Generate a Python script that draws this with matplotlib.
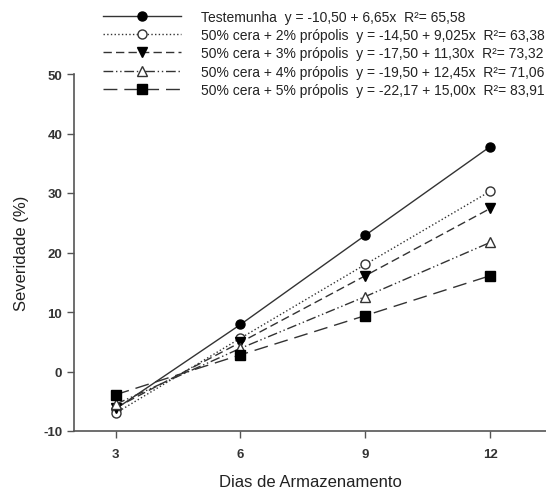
import matplotlib
matplotlib.use('Agg')
import matplotlib.pyplot as plt

plt.rcParams['font.family'] = ['Liberation Sans', 'DejaVu Sans']
plt.rcParams['axes.unicode_minus'] = False

dias = [3, 6, 9, 12]
testemunha = [-6.3, 7.9, 22.9, 37.8]
propolis2 = [-7.0, 5.6, 18.0, 30.3]
propolis3 = [-6.1, 4.9, 16.1, 27.4]
propolis4 = [-5.5, 3.9, 12.6, 21.7]
propolis5 = [-3.9, 2.8, 9.4, 16.1]

labels = [
    'Testemunha  y = -10,50 + 6,65x  R²= 65,58',
    '50% cera + 2% própolis  y = -14,50 + 9,025x  R²= 63,38',
    '50% cera + 3% própolis  y = -17,50 + 11,30x  R²= 73,32',
    '50% cera + 4% própolis  y = -19,50 + 12,45x  R²= 71,06',
    '50% cera + 5% própolis  y = -22,17 + 15,00x  R²= 83,91',
]

cor = '#333333'
fig = plt.figure(figsize=(5.46, 4.89), dpi=100)
ax = fig.add_axes([74 / 546, 57 / 489, 1 - 74 / 546, (432 - 75) / 489])

ax.plot(dias, testemunha, '-', color=cor, lw=1.0, marker='o', ms=6.5,
        mfc='black', mec='black', label=labels[0])
ax.plot(dias, propolis2, ':', color=cor, lw=1.0, marker='o', ms=6.5,
        mfc='white', mec=cor, label=labels[1])
ax.plot(dias, propolis3, color=cor, lw=1.0, dashes=(6, 3), marker='v', ms=6.5,
        mfc='black', mec='black', label=labels[2])
ax.plot(dias, propolis4, color=cor, lw=1.0, dashes=(7, 2, 1, 2, 1, 2), marker='^', ms=6.5,
        mfc='white', mec=cor, label=labels[3])
ax.plot(dias, propolis5, color=cor, lw=1.0, dashes=(10, 5), marker='s', ms=6.5,
        mfc='black', mec='black', label=labels[4])

ax.set_xlim(2, 13.34)
ax.set_ylim(-10, 50)
ax.set_xticks(dias)
ax.set_yticks(range(-10, 51, 10))
ax.spines['top'].set_visible(False)
ax.spines['right'].set_visible(False)
for s in ['left', 'bottom']:
    ax.spines[s].set_color('#555555')
    ax.spines[s].set_linewidth(1.2)
ax.tick_params(direction='out', length=5, width=1, color='#555555',
               labelsize=9.5, labelcolor='#333333')
ax.tick_params(axis='x', pad=7)
for t in ax.get_xticklabels() + ax.get_yticklabels():
    t.set_fontweight('bold')

ax.set_xlabel('Dias de Armazenamento', fontsize=12, color='#222222', labelpad=10)
ax.set_ylabel('Severidade (%)', fontsize=12, color='#222222', labelpad=10)

fig.legend(loc='upper left', bbox_to_anchor=(103 / 546, 1 - 11 / 489),
           frameon=False, fontsize=10, handlelength=5.6, handletextpad=1.45,
           labelspacing=0.3, borderpad=0, borderaxespad=0, labelcolor='#222222')

fig.savefig('out.png', dpi=100)
